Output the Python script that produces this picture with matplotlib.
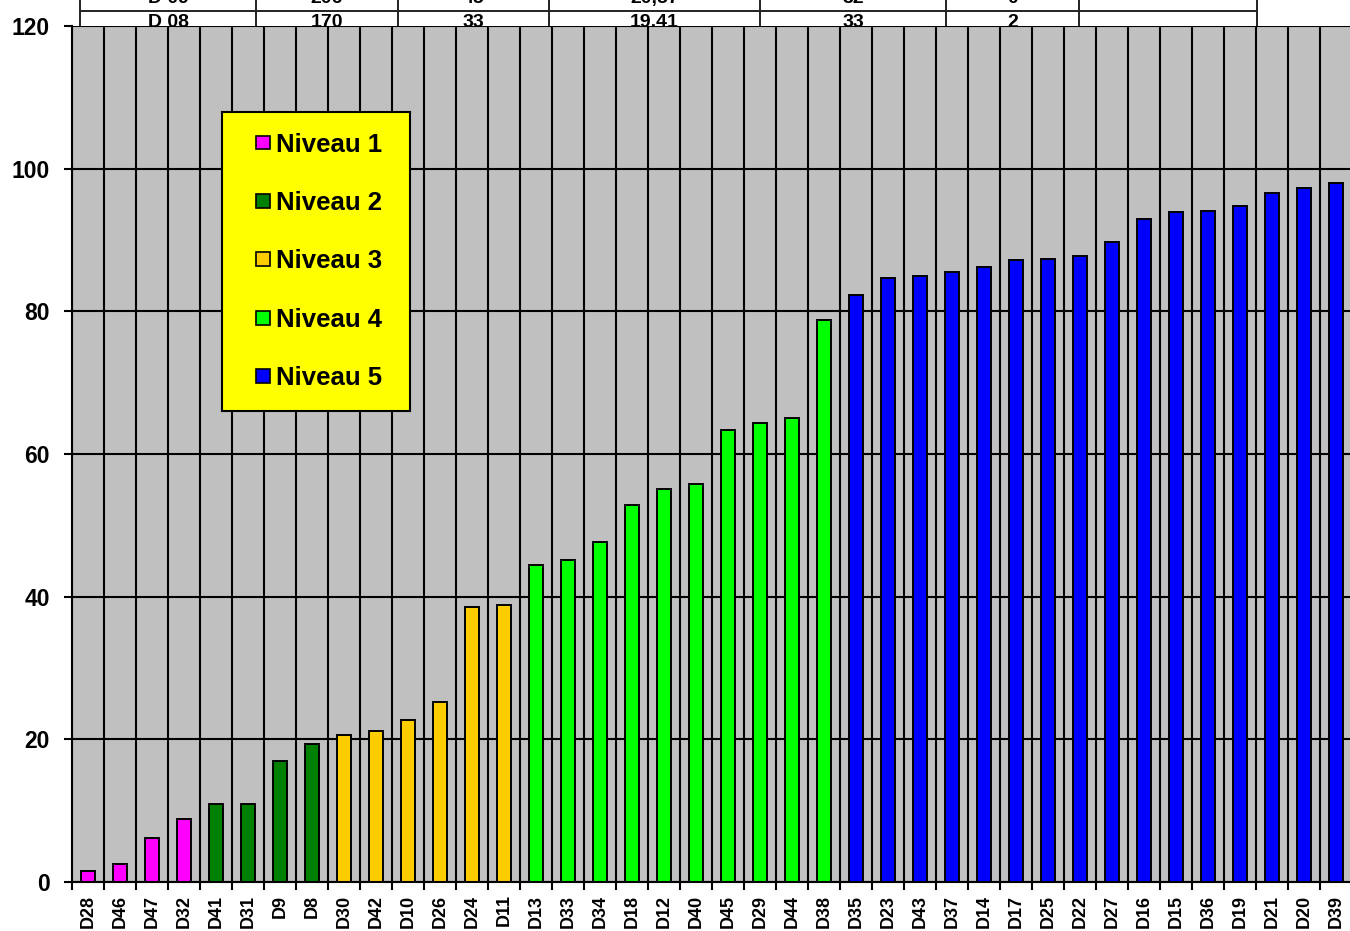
"""Bar chart of scores per site, coloured by level, with the summary table peeking above."""

import matplotlib

matplotlib.use("Agg")
import matplotlib.pyplot as plt
from matplotlib.patches import Patch, Rectangle
from matplotlib.lines import Line2D
from matplotlib.legend_handler import HandlerPatch

# sites sorted by score
sites = [
    "D28", "D46", "D47", "D32", "D41", "D31", "D9", "D8", "D30", "D42",
    "D10", "D26", "D24", "D11", "D13", "D33", "D34", "D18", "D12", "D40",
    "D45", "D29", "D44", "D38", "D35", "D23", "D43", "D37", "D14", "D17",
    "D25", "D22", "D27", "D16", "D15", "D36", "D19", "D21", "D20", "D39",
]
scores = [
    1.6, 2.5, 6.2, 8.9, 10.9, 10.9, 17.0, 19.3, 20.6, 21.1,
    22.7, 25.2, 38.6, 38.9, 44.4, 45.2, 47.7, 52.9, 55.1, 55.8,
    63.4, 64.4, 65.1, 78.8, 82.3, 84.7, 84.9, 85.5, 86.2, 87.2,
    87.4, 87.8, 89.7, 93.0, 93.9, 94.1, 94.8, 96.6, 97.3, 98.0,
]
levels = [1] * 4 + [2] * 4 + [3] * 6 + [4] * 10 + [5] * 16

level_names = ["Niveau 1", "Niveau 2", "Niveau 3", "Niveau 4", "Niveau 5"]
level_colors = ["#ff00ff", "#008000", "#ffcc00", "#00ff00", "#0000ff"]

# two rows of the table that sits above the chart on the page
table_rows = [
    ["D 09", "206", "45", "20,57", "32", "0", ""],
    ["D 08", "170", "33", "19,41", "33", "2", ""],
]
table_cols_px = [80, 256, 398, 549, 760, 946, 1079, 1257]

W, H = 1350, 931
BOLD = {"family": ["Liberation Sans", "DejaVu Sans"], "weight": "bold"}


def px(x, y):
    return x / W, 1 - y / H


def square_at_right(legend, orig_handle, xdescent, ydescent, width, height, fontsize):
    # small square pushed to the right end of the handle box
    s = 10.0
    return Rectangle((-xdescent + width - s, -ydescent + (height - s) / 2), s, s)


def draw_table(fig):
    kw = dict(color="#222222", linewidth=1.4, zorder=-5)
    for x in table_cols_px:
        fig.add_artist(Line2D([x / W] * 2, [1 - 30 / H, 1.01], transform=fig.transFigure, **kw))
    fig.add_artist(Line2D([80 / W, 1257 / W], [1 - 10.5 / H] * 2, transform=fig.transFigure, **kw))
    for row, (y, va) in zip(table_rows, [(3, "baseline"), (14, "top")]):
        for i, cell in enumerate(row):
            cx = (table_cols_px[i] + table_cols_px[i + 1]) / 2
            fig.text(cx / W, 1 - y / H, cell, ha="center", va=va, fontsize=14, zorder=-4, **BOLD)


def main():
    fig = plt.figure(figsize=(W / 100, H / 100), dpi=100)
    draw_table(fig)

    ax = fig.add_axes([72 / W, (H - 882) / H, 1280 / W, 856 / H])
    ax.set_facecolor("#c0c0c0")

    xs = list(range(len(sites)))
    colors = [level_colors[lv - 1] for lv in levels]
    ax.bar(xs, scores, width=0.42, color=colors, edgecolor="black", linewidth=1.4, zorder=3)

    ax.set_xlim(-0.5, len(sites) - 0.5)
    ax.set_ylim(0, 120)

    # category labels at centres, tick marks and grid on the boundaries
    ax.set_xticks(xs)
    ax.set_xticklabels(sites, rotation=90, fontsize=13, **BOLD)
    ax.set_xticks([i + 0.5 for i in range(-1, len(sites))], minor=True)
    ax.tick_params(axis="x", which="major", length=0, pad=9)
    ax.tick_params(axis="x", which="minor", length=6, width=1.5, color="black", direction="out")

    ax.set_yticks(range(0, 121, 20))
    ax.set_yticklabels([str(v) for v in range(0, 121, 20)], fontsize=16.5, **BOLD)
    ax.tick_params(axis="y", length=6, width=1.5, pad=10)

    ax.grid(True, axis="y", which="major", color="black", linewidth=1.5, zorder=1)
    ax.grid(True, axis="x", which="minor", color="black", linewidth=1.5, zorder=1)
    ax.grid(False, axis="x", which="major")
    ax.set_axisbelow(True)

    for side in ["top", "right"]:
        ax.spines[side].set_visible(False)
    for side in ["left", "bottom"]:
        ax.spines[side].set_linewidth(1.5)
        ax.spines[side].set_zorder(4)

    # trailing space keeps some room between the labels and the frame edge
    handles = [Patch(facecolor=c, edgecolor="black", linewidth=1.2, label=n + " ")
               for c, n in zip(level_colors, level_names)]
    leg = ax.legend(
        handles=handles,
        handler_map={Patch: HandlerPatch(patch_func=square_at_right)},
        loc="upper left",
        bbox_to_anchor=px(222, 112),
        bbox_transform=fig.transFigure,
        borderaxespad=0,
        prop={**BOLD, "size": 18.5},
        handlelength=1.05,
        handleheight=0.6,
        handletextpad=0.25,
        labelspacing=1.34,
        borderpad=0.8,
        fancybox=False,
        framealpha=1,
    )
    frame = leg.get_frame()
    frame.set_facecolor("#ffff00")
    frame.set_edgecolor("black")
    frame.set_linewidth(1.5)
    leg.set_zorder(6)

    fig.savefig("out.png", dpi=100)
    plt.close(fig)


if __name__ == "__main__":
    main()
